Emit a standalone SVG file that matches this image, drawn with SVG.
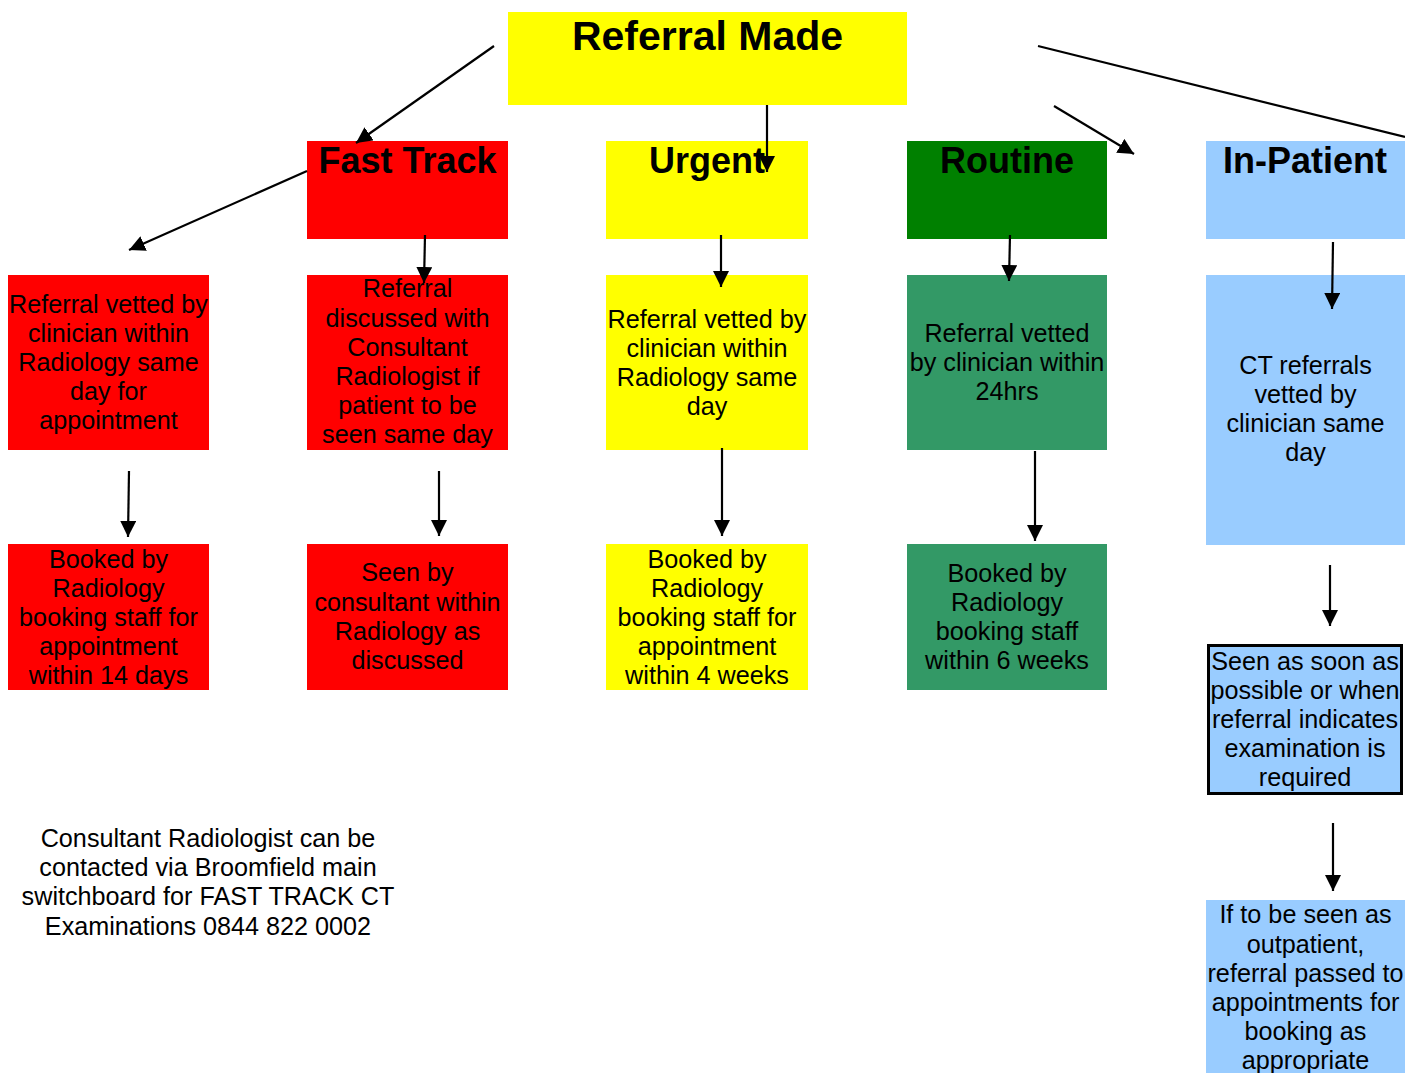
<svg xmlns="http://www.w3.org/2000/svg" width="1405" height="1073" viewBox="0 0 1405 1073">
<style>
text{font-family:"Liberation Sans",Arial,Helvetica,sans-serif;fill:#000;text-anchor:middle}
.t{font-size:25.2px}
.h{font-size:36px;font-weight:bold}
.big{font-size:41px;font-weight:bold}
.c{stroke:#000;stroke-width:2.2;fill:none}
.a{marker-end:url(#ah)}
.red{fill:#FF0000}.yel{fill:#FFFF00}.grn{fill:#008000}.teal{fill:#339966}.blu{fill:#99CCFF}
</style>
<defs>
<marker id="ah" viewBox="0 0 16 16" refX="16" refY="8" markerWidth="16" markerHeight="16" orient="auto" markerUnits="userSpaceOnUse">
<path d="M0,0 L16,8 L0,16 z" fill="#000"/>
</marker>
</defs>
<rect width="1405" height="1073" fill="#fff"/>

<g id="referral-made"><rect class="yel" x="508" y="12" width="399" height="93"/><text class="big" x="707.5" y="50">Referral Made</text></g>

<g id="fast-track"><rect class="red" x="307" y="141" width="201" height="98"/><text class="h" x="407.5" y="173">Fast Track</text></g>
<g id="urgent"><rect class="yel" x="606" y="141" width="202" height="98"/><text class="h" x="707" y="173">Urgent</text></g>
<g id="routine"><rect class="grn" x="907" y="141" width="200" height="98"/><text class="h" x="1007" y="173">Routine</text></g>
<g id="in-patient"><rect class="blu" x="1206" y="141" width="199" height="98"/><text class="h" x="1305" y="173">In-Patient</text></g>

<g id="ft-vetted"><rect class="red" x="8" y="275" width="201" height="175"/>
<text class="t" x="108.5"><tspan x="108.5" y="313">Referral vetted by</tspan><tspan x="108.5" y="342">clinician within</tspan><tspan x="108.5" y="371">Radiology same</tspan><tspan x="108.5" y="400">day for</tspan><tspan x="108.5" y="429">appointment</tspan></text></g>

<g id="ft-discussed"><rect class="red" x="307" y="275" width="201" height="175"/>
<text class="t"><tspan x="407.5" y="297">Referral</tspan><tspan x="407.5" y="327">discussed with</tspan><tspan x="407.5" y="356">Consultant</tspan><tspan x="407.5" y="385">Radiologist if</tspan><tspan x="407.5" y="414">patient to be</tspan><tspan x="407.5" y="443">seen same day</tspan></text></g>

<g id="ur-vetted"><rect class="yel" x="606" y="275" width="202" height="175"/>
<text class="t"><tspan x="707" y="328">Referral vetted by</tspan><tspan x="707" y="357">clinician within</tspan><tspan x="707" y="386">Radiology same</tspan><tspan x="707" y="415">day</tspan></text></g>

<g id="ro-vetted"><rect class="teal" x="907" y="275" width="200" height="175"/>
<text class="t"><tspan x="1007" y="342">Referral vetted</tspan><tspan x="1007" y="371">by clinician within</tspan><tspan x="1007" y="400">24hrs</tspan></text></g>

<g id="ip-vetted"><rect class="blu" x="1206" y="275" width="199" height="270"/>
<text class="t"><tspan x="1305.5" y="374">CT referrals</tspan><tspan x="1305.5" y="403">vetted by</tspan><tspan x="1305.5" y="432">clinician same</tspan><tspan x="1305.5" y="461">day</tspan></text></g>

<g id="ft-booked"><rect class="red" x="8" y="544" width="201" height="146"/>
<text class="t"><tspan x="108.5" y="568">Booked by</tspan><tspan x="108.5" y="597">Radiology</tspan><tspan x="108.5" y="626">booking staff for</tspan><tspan x="108.5" y="655">appointment</tspan><tspan x="108.5" y="684">within 14 days</tspan></text></g>

<g id="ft-seen"><rect class="red" x="307" y="544" width="201" height="146"/>
<text class="t"><tspan x="407.5" y="581">Seen by</tspan><tspan x="407.5" y="611">consultant within</tspan><tspan x="407.5" y="640">Radiology as</tspan><tspan x="407.5" y="669">discussed</tspan></text></g>

<g id="ur-booked"><rect class="yel" x="606" y="544" width="202" height="146"/>
<text class="t"><tspan x="707" y="568">Booked by</tspan><tspan x="707" y="597">Radiology</tspan><tspan x="707" y="626">booking staff for</tspan><tspan x="707" y="655">appointment</tspan><tspan x="707" y="684">within 4 weeks</tspan></text></g>

<g id="ro-booked"><rect class="teal" x="907" y="544" width="200" height="146"/>
<text class="t"><tspan x="1007" y="582">Booked by</tspan><tspan x="1007" y="611">Radiology</tspan><tspan x="1007" y="640">booking staff</tspan><tspan x="1007" y="669">within 6 weeks</tspan></text></g>

<g id="ip-seen"><rect class="blu" x="1208.5" y="645.5" width="193" height="148" stroke="#000" stroke-width="3"/>
<text class="t"><tspan x="1305" y="670">Seen as soon as</tspan><tspan x="1305" y="699">possible or when</tspan><tspan x="1305" y="728">referral indicates</tspan><tspan x="1305" y="757">examination is</tspan><tspan x="1305" y="786">required</tspan></text></g>

<g id="ip-outpatient"><rect class="blu" x="1206" y="900" width="199" height="173"/>
<text class="t"><tspan x="1305.5" y="923">If to be seen as</tspan><tspan x="1305.5" y="953">outpatient,</tspan><tspan x="1305.5" y="982">referral passed to</tspan><tspan x="1305.5" y="1011">appointments for</tspan><tspan x="1305.5" y="1040">booking as</tspan><tspan x="1305.5" y="1069">appropriate</tspan></text></g>

<g id="note">
<text class="t"><tspan x="208" y="847">Consultant Radiologist can be</tspan><tspan x="208" y="876">contacted via Broomfield main</tspan><tspan x="208" y="905">switchboard for FAST TRACK CT</tspan><tspan x="208" y="935">Examinations 0844 822 0002</tspan></text>
</g>

<g id="connectors">
<line class="c a" x1="494" y1="46" x2="356" y2="143"/>
<line class="c a" x1="767" y1="105" x2="767" y2="172"/>
<line class="c a" x1="1054" y1="106" x2="1134" y2="154"/>
<line class="c" x1="1038" y1="46" x2="1405" y2="137"/>
<line class="c a" x1="307" y1="171" x2="129" y2="250"/>
<line class="c a" x1="425" y1="235" x2="424" y2="283"/>
<line class="c a" x1="721" y1="235" x2="721" y2="287"/>
<line class="c a" x1="1010" y1="235" x2="1009" y2="281"/>
<line class="c a" x1="1333" y1="242" x2="1332" y2="309"/>
<line class="c a" x1="129" y1="471" x2="128" y2="537"/>
<line class="c a" x1="439" y1="471" x2="439" y2="536"/>
<line class="c a" x1="722" y1="448" x2="722" y2="536"/>
<line class="c a" x1="1035" y1="451" x2="1035" y2="541"/>
<line class="c a" x1="1330" y1="565" x2="1330" y2="626"/>
<line class="c a" x1="1333" y1="823" x2="1333" y2="891"/>
</g>
</svg>
